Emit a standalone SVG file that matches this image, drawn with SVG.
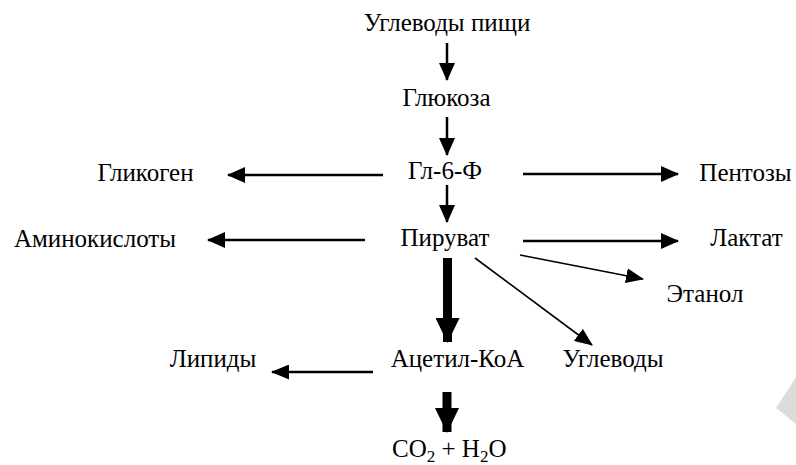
<svg xmlns="http://www.w3.org/2000/svg" width="796" height="465" viewBox="0 0 796 465">
<defs>
<marker id="ah" markerUnits="userSpaceOnUse" markerWidth="18" markerHeight="16" refX="17" refY="8" orient="auto">
<path d="M0,0 L18,8 L0,16 z" fill="#000"/>
</marker>
<marker id="ad" markerUnits="userSpaceOnUse" markerWidth="18" markerHeight="15" refX="17" refY="7.5" orient="auto">
<path d="M0,0 L18,7.5 L0,15 z" fill="#000"/>
</marker>
<marker id="ak" markerUnits="userSpaceOnUse" markerWidth="25" markerHeight="24" refX="24" refY="12" orient="auto">
<path d="M0,0 L25,12 L0,24 z" fill="#000"/>
</marker>
</defs>
<polygon points="776,408 796,377 796,424" fill="#dcdcdc"/>
<g id="connectors" stroke="#000" fill="none">
<g stroke-width="2.5" marker-end="url(#ah)">
<line x1="447" y1="43" x2="447" y2="80"/>
<line x1="447" y1="117" x2="447" y2="155"/>
<line x1="447" y1="185" x2="447" y2="222"/>
<line x1="383" y1="175" x2="228" y2="175"/>
<line x1="523" y1="174" x2="678" y2="174"/>
<line x1="365" y1="240" x2="208" y2="240"/>
<line x1="523" y1="241" x2="678" y2="241"/>
</g>
<g stroke-width="1.6" marker-end="url(#ad)">
<line x1="520" y1="255" x2="643" y2="279"/>
<line x1="475" y1="258" x2="592" y2="345"/>
</g>
<line x1="373" y1="372" x2="272" y2="372" stroke-width="2.5" marker-end="url(#ad)"/>
<g stroke-width="9" marker-end="url(#ak)">
<line x1="447.5" y1="258" x2="447.5" y2="342"/>
<line x1="447" y1="392" x2="447" y2="432"/>
</g>
</g>
<g font-size="25" fill="#000">
<g id="n-uglevody-pishchi"><text font-family="Times New Roman" text-anchor="middle" x="447" y="31">Углеводы пищи</text></g>
<g id="n-glukoza"><text font-family="Times New Roman" text-anchor="middle" x="446.5" y="106">Глюкоза</text></g>
<g id="n-gl6f"><text font-family="Times New Roman" text-anchor="middle" x="445" y="179">Гл-6-Ф</text></g>
<g id="n-glikogen"><text font-family="Times New Roman" text-anchor="middle" x="145.5" y="181">Гликоген</text></g>
<g id="n-pentozy"><text font-family="Times New Roman" text-anchor="middle" x="745.5" y="181">Пентозы</text></g>
<g id="n-aminokisloty"><text font-family="Times New Roman" text-anchor="middle" x="95" y="247">Аминокислоты</text></g>
<g id="n-piruvat"><text font-family="Times New Roman" text-anchor="middle" x="445" y="246">Пируват</text></g>
<g id="n-laktat"><text font-family="Times New Roman" text-anchor="middle" x="746.5" y="246">Лактат</text></g>
<g id="n-etanol"><text font-family="Times New Roman" text-anchor="middle" x="705" y="302">Этанол</text></g>
<g id="n-lipidy"><text font-family="Times New Roman" text-anchor="middle" x="213" y="367">Липиды</text></g>
<g id="n-acetilkoa"><text font-family="Times New Roman" text-anchor="middle" x="457.5" y="367">Ацетил-КоА</text></g>
<g id="n-uglevody"><text font-family="Times New Roman" text-anchor="middle" x="613" y="367">Углеводы</text></g>
<g id="n-co2h2o"><text font-family="Times New Roman" x="392" y="457">CO<tspan font-size="17" dy="5">2</tspan><tspan dy="-5"> + H</tspan><tspan font-size="17" dy="5">2</tspan><tspan dy="-5">O</tspan></text></g>
</g>
</svg>
